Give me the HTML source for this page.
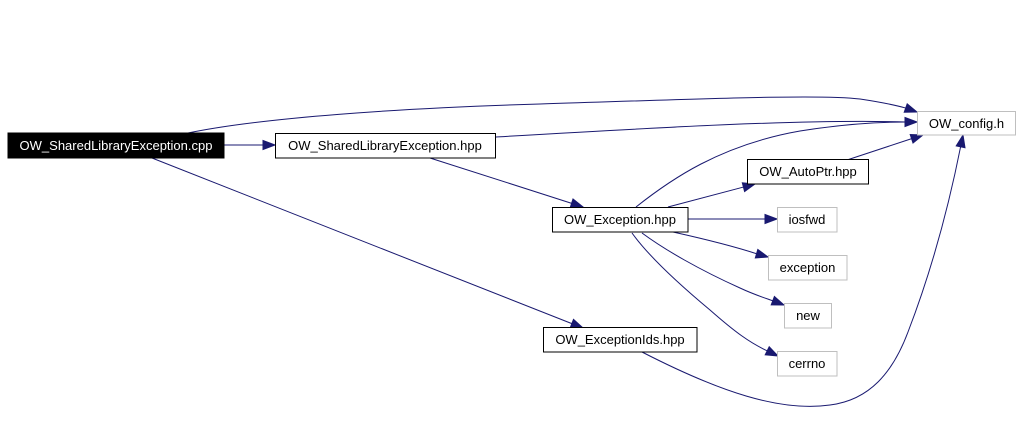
<!DOCTYPE html>
<html>
<head>
<meta charset="utf-8">
<style>
html,body{margin:0;padding:0;background:#fff;}
svg{display:block;}
text{font-family:"Liberation Sans",Arial,sans-serif;font-size:13px;}
</style>
</head>
<body>
<svg width="1021" height="443" viewBox="0 0 1021 443" xmlns="http://www.w3.org/2000/svg">
<rect width="1021" height="443" fill="#fff"/>
<g fill="none" stroke="#191970" stroke-width="1">
  <path d="M224,145 L264,145"/>
  <path d="M188,133 C260,118 400,108 540,104 C700,99 820,94 860,99 C880,102 895,105 906.7,108.3"/>
  <path d="M496,137 C650,128 800,119 906,122"/>
  <path d="M430,158 L572.5,203.6"/>
  <path d="M152,158 L572.8,324"/>
  <path d="M636,207 C670,180 720,145 800,131 C850,123 885,122 906,122"/>
  <path d="M668,207 L744.4,186.8"/>
  <path d="M847,160 L912.5,138.4"/>
  <path d="M688,219 L766,219"/>
  <path d="M673,232 C700,238 730,245 757.4,254"/>
  <path d="M642,233 C665,250 700,270 740,288 C755,295 765,298 773.7,301.1"/>
  <path d="M632,233 C650,258 680,285 710,310 C735,332 750,343 768.1,351.2"/>
  <path d="M642,352 C720,392 780,412 830,405 C870,400 893,372 908,332 C933,267 950,200 960.8,145.8"/>
</g>
<g fill="#191970" stroke="#191970" stroke-width="1">
  <polygon points="275,145 263,140.5 263,149.5"/>
  <polygon points="917,112 904.2,112.2 907.2,103.8"/>
  <polygon points="917,122 905,117.5 905,126.5"/>
  <polygon points="583,207 570.2,207.6 573,199"/>
  <polygon points="583,328 570.2,327.8 573.5,319.4"/>
  <polygon points="755,184 744.6,191.5 742.3,182.8"/>
  <polygon points="923,135 913,143 910.2,134.5"/>
  <polygon points="777,219 765,214.5 765,223.5"/>
  <polygon points="768,257 755.3,258 757.8,249.4"/>
  <polygon points="784,305 771.2,304.9 774.4,296.5"/>
  <polygon points="778,356 765.2,354.8 769.2,346.7"/>
  <polygon points="963,135 965,147.7 956.2,145.9"/>
</g>
<rect x="8" y="133" width="216" height="25" fill="#000" stroke="#000"/>
<text x="116" y="150" fill="#fff" text-anchor="middle">OW_SharedLibraryException.cpp</text>

<rect x="275.5" y="133.5" width="220" height="24.5" fill="#fff" stroke="#000"/>
<text x="385" y="150" fill="#000" text-anchor="middle">OW_SharedLibraryException.hpp</text>

<rect x="917.5" y="111.5" width="98" height="23.5" fill="#fff" stroke="#bfbfbf"/>
<text x="966.5" y="128" fill="#000" text-anchor="middle">OW_config.h</text>

<rect x="747.5" y="159.5" width="121" height="24.5" fill="#fff" stroke="#000"/>
<text x="808" y="176" fill="#000" text-anchor="middle">OW_AutoPtr.hpp</text>

<rect x="552.5" y="207.5" width="135.5" height="24.5" fill="#fff" stroke="#000"/>
<text x="620" y="224" fill="#000" text-anchor="middle">OW_Exception.hpp</text>

<rect x="777.5" y="207.5" width="59.5" height="24.5" fill="#fff" stroke="#bfbfbf"/>
<text x="807" y="224" fill="#000" text-anchor="middle">iosfwd</text>

<rect x="768.5" y="255.5" width="78.5" height="24.5" fill="#fff" stroke="#bfbfbf"/>
<text x="807.5" y="272" fill="#000" text-anchor="middle">exception</text>

<rect x="784.5" y="303.5" width="47" height="24.5" fill="#fff" stroke="#bfbfbf"/>
<text x="808" y="320" fill="#000" text-anchor="middle">new</text>

<rect x="777.5" y="351.5" width="59.5" height="24.5" fill="#fff" stroke="#bfbfbf"/>
<text x="807" y="368" fill="#000" text-anchor="middle">cerrno</text>

<rect x="543.5" y="327.5" width="153.5" height="24.5" fill="#fff" stroke="#000"/>
<text x="620" y="344" fill="#000" text-anchor="middle">OW_ExceptionIds.hpp</text>
</svg>
</body>
</html>
